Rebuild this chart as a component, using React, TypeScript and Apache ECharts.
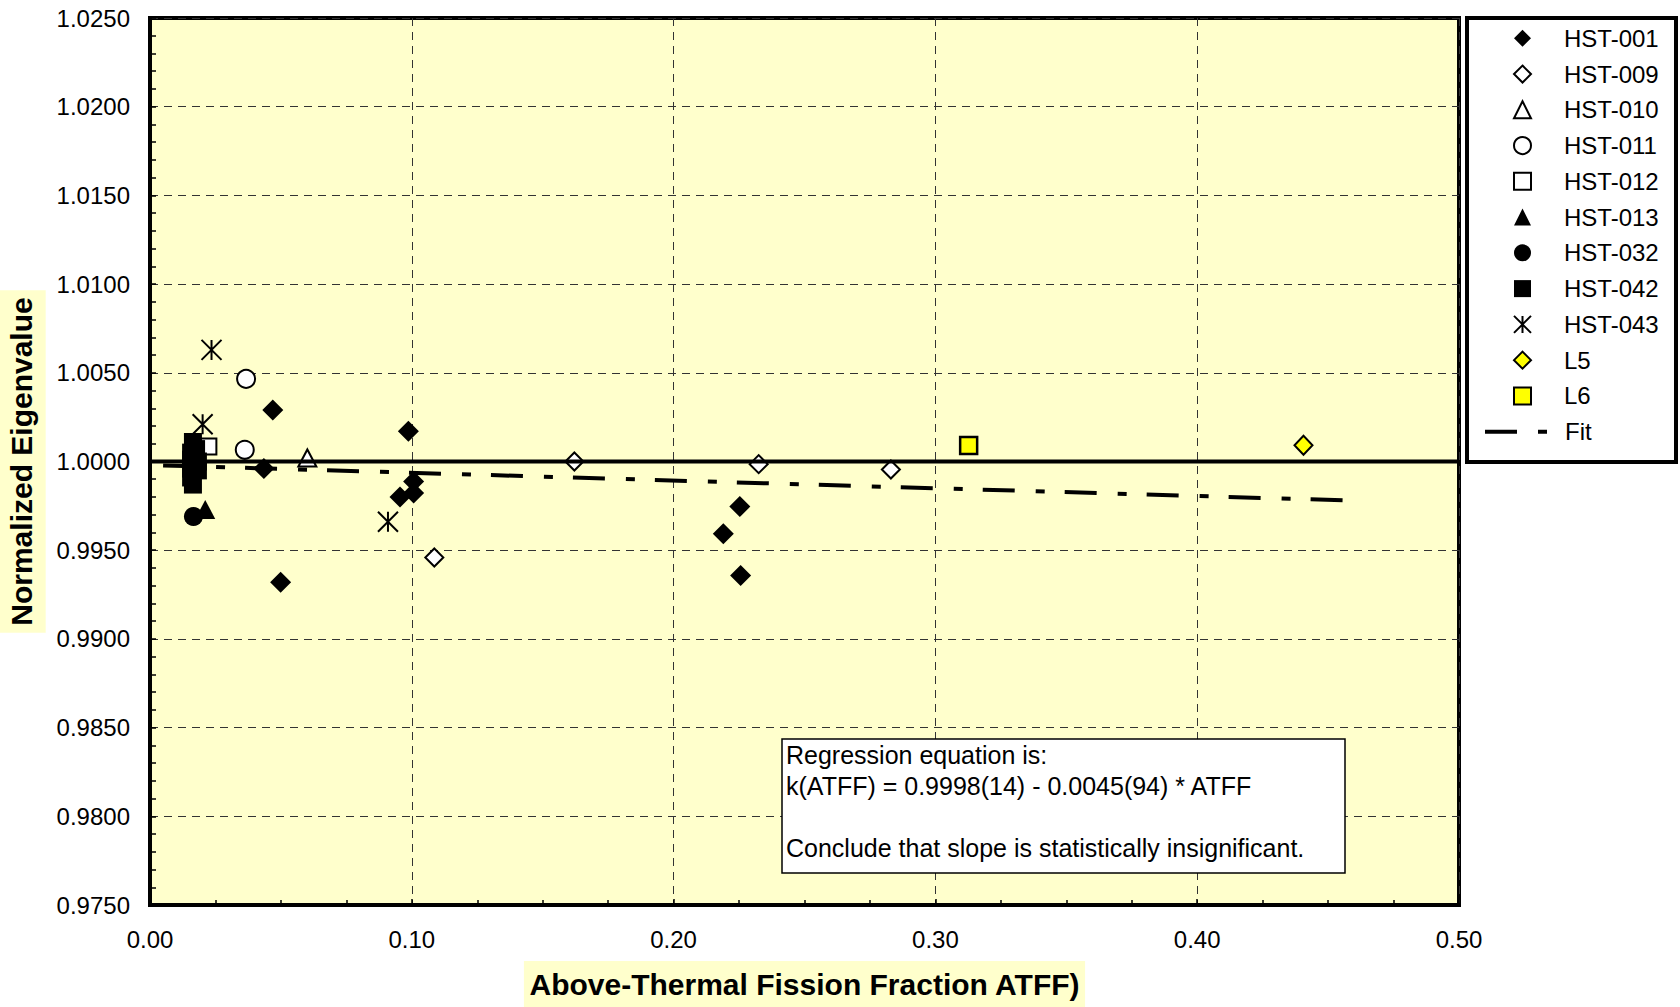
import React, { useEffect, useRef } from "react";
import * as echarts from "echarts";

const FONT = "'Liberation Sans', Arial, Helvetica, sans-serif";

// ---- data ----
const xMin = 0;
const xMax = 0.5;
const xStep = 0.1;
const yMin = 0.975;
const yMax = 1.025;
const yStep = 0.005;

const HST001 = [
  [0.0469, 1.0029], [0.0987, 1.0017], [0.0435, 0.9996], [0.1007, 0.99887],
  [0.1007, 0.99822], [0.0955, 0.9980], [0.0499, 0.9932], [0.2253, 0.99746],
  [0.2190, 0.99593], [0.2256, 0.99358],
];
const HST009 = [[0.1621, 1.0000], [0.2325, 0.99985], [0.2830, 0.99955], [0.1086, 0.99459]];
const HST010 = [[0.0601, 1.0002]];
const HST011 = [[0.0367, 1.00466], [0.0362, 1.00066]];
const HST012 = [[0.0223, 1.00085]];
const HST013 = [[0.0211, 0.9973]];
const HST032 = [[0.0166, 0.9969]];
const HST042 = [
  [0.0164, 1.0011], [0.0176, 1.0007], [0.0157, 1.0005], [0.0157, 1.0001],
  [0.0183, 1.0000], [0.0183, 0.9995], [0.0157, 0.9996], [0.0157, 0.9991],
  [0.0164, 0.9987],
];
const HST043 = [[0.0235, 1.00629], [0.0201, 1.0021], [0.0909, 0.9966]];
const L5 = [[0.4406, 1.00092]];
const L6 = [[0.3127, 1.0009]];
const FIT = [[0.005, 0.99978], [0.456, 0.99781]];
const BASELINE = [[0, 1], [0.5, 1]];

const markerNames = [
  "HST-001", "HST-009", "HST-010", "HST-011", "HST-012", "HST-013",
  "HST-032", "HST-042", "HST-043", "L5", "L6",
];

const regressionText = [
  "Regression equation is:",
  "k(ATFF) = 0.9998(14) - 0.0045(94) * ATFF",
  "",
  "Conclude that slope is statistically insignificant.",
];

const ASTERISK = "path://M10,0 L10,20 M0,0 L20,20 M20,0 L0,20";
const FIT_DASH = [32, 21, 9, 20];

function App() {
  const ref = useRef<HTMLDivElement>(null);

  useEffect(() => {
    if (!ref.current) return;
    const chart = echarts.init(ref.current, null, { renderer: "svg", width: 1680, height: 1007 });

    const filled = (color: string) => ({ color, borderColor: "#000", borderWidth: 0, opacity: 1 });
    const open = (fill: string, bw = 2) => ({ color: fill, borderColor: "#000", borderWidth: bw, opacity: 1 });

    const scatter = (name: string, data: number[][], symbol: string, size: any, itemStyle: any) => ({
      name,
      type: "scatter",
      data,
      symbol,
      symbolSize: size,
      itemStyle,
      silent: true,
    });

    const option: any = {
      animation: false,
      backgroundColor: "#fff",
      textStyle: { fontFamily: FONT },
      grid: {
        left: 150,
        top: 18,
        width: 1309,
        height: 887,
        containLabel: false,
        outerBoundsMode: "none",
        show: true,
        backgroundColor: "#FFFFCC",
        borderColor: "#000",
        borderWidth: 4,
      },
      xAxis: {
        type: "value",
        min: xMin,
        max: xMax,
        interval: xStep,
        axisLine: { show: true, onZero: false, lineStyle: { color: "#000", width: 4 } },
        axisTick: { show: true, inside: true, length: 6, lineStyle: { color: "#000", width: 1.5 } },
        minorTick: { show: true, splitNumber: 4, length: 5, lineStyle: { color: "#000", width: 1.5 } },
        splitLine: { show: true, lineStyle: { color: "#333", width: 1, type: [8, 6] } },
        axisLabel: {
          fontSize: 24,
          color: "#000",
          fontFamily: FONT,
          margin: 22,
          formatter: (v: number) => v.toFixed(2),
        },
        name: "Above-Thermal Fission Fraction ATFF)",
        nameLocation: "middle",
        nameGap: 56,
        nameTextStyle: {
          fontSize: 30,
          fontWeight: "bold",
          color: "#000",
          fontFamily: FONT,
          lineHeight: 30,
          backgroundColor: "#FFFFCC",
          padding: [8, 5, 8, 5],
        },
      },
      yAxis: {
        type: "value",
        min: yMin,
        max: yMax,
        interval: yStep,
        axisLine: { show: true, onZero: false, lineStyle: { color: "#000", width: 4 } },
        axisTick: { show: true, inside: true, length: 6, lineStyle: { color: "#000", width: 1.5 } },
        minorTick: { show: true, splitNumber: 5, length: 6, lineStyle: { color: "#000", width: 1.5 } },
        splitLine: { show: true, lineStyle: { color: "#333", width: 1, type: [8, 6] } },
        axisLabel: {
          fontSize: 24,
          color: "#000",
          fontFamily: FONT,
          margin: 20,
          formatter: (v: number) => v.toFixed(4),
        },
        name: "Normalized Eigenvalue",
        nameLocation: "middle",
        nameGap: 100,
        nameTextStyle: {
          fontSize: 30,
          fontWeight: "bold",
          color: "#000",
          fontFamily: FONT,
          lineHeight: 30,
          backgroundColor: "#FFFFCC",
          padding: [8, 7, 9, 7],
        },
      },
      legend: [
        {
          data: markerNames,
          orient: "vertical",
          left: 1513,
          top: 26.3,
          itemWidth: 17,
          itemHeight: 17,
          itemGap: 11.76,
          padding: 0,
          selectedMode: false,
          textStyle: {
            fontSize: 24,
            lineHeight: 24,
            color: "#000",
            fontFamily: FONT,
            padding: [0, 0, 0, 28],
          },
        },
        {
          data: ["Fit"],
          orient: "vertical",
          left: 1483,
          top: 419.7,
          itemWidth: 64,
          itemHeight: 17,
          padding: 0,
          selectedMode: false,
          itemStyle: { color: "rgba(0,0,0,0)", borderWidth: 0, opacity: 0 },
          lineStyle: { width: 4, type: FIT_DASH, color: "#000", opacity: 1 },
          textStyle: {
            fontSize: 24,
            lineHeight: 24,
            color: "#000",
            fontFamily: FONT,
            padding: [0, 0, 0, 11],
          },
        },
      ],
      graphic: [
        {
          type: "rect",
          z: 1,
          shape: { x: 1467, y: 18, width: 209, height: 444 },
          style: { fill: "#fff", stroke: "#000", lineWidth: 4 },
        },
        {
          type: "group",
          z: 10,
          children: [
            {
              type: "rect",
              z: 10,
              shape: { x: 782, y: 739, width: 563, height: 134 },
              style: { fill: "#fff", stroke: "#000", lineWidth: 1.5 },
            },
            {
              type: "text",
              z: 11,
              x: 786,
              y: 739.5,
              style: {
                text: regressionText.join("\n"),
                fontSize: 25,
                lineHeight: 31,
                fontFamily: FONT,
                fill: "#000",
                textAlign: "left",
                textVerticalAlign: "top",
              },
            },
          ],
        },
      ],
      series: [
        {
          name: "baseline",
          type: "line",
          data: BASELINE,
          symbol: "none",
          silent: true,
          lineStyle: { color: "#000", width: 4 },
        },
        {
          name: "Fit",
          type: "line",
          data: FIT,
          symbol: "none",
          silent: true,
          itemStyle: { color: "#000" },
          lineStyle: { color: "#000", width: 4, type: FIT_DASH },
        },
        scatter("HST-001", HST001, "diamond", 21, filled("#000")),
        scatter("HST-009", HST009, "diamond", 18, open("#fff")),
        scatter("HST-010", HST010, "triangle", [18, 17], open("#fff")),
        scatter("HST-011", HST011, "circle", 18, open("#fff")),
        scatter("HST-012", HST012, "rect", 16, open("#fff")),
        scatter("HST-013", HST013, "triangle", [20, 19], filled("#000")),
        scatter("HST-032", HST032, "circle", 19, filled("#000")),
        scatter("HST-042", HST042, "rect", 18, filled("#000")),
        scatter("HST-043", HST043, ASTERISK, 20, { color: "#000", borderColor: "#000", borderWidth: 2, opacity: 1 }),
        scatter("L5", L5, "diamond", [18, 19], open("#FFFF00")),
        scatter("L6", L6, "rect", 17, open("#FFFF00", 2.5)),
      ],
    };

    chart.setOption(option);
    return () => chart.dispose();
  }, []);

  return (
    <div
      ref={ref}
      style={{ position: "fixed", left: 0, top: 0, width: 1680, height: 1007, background: "#fff" }}
    />
  );
}

export default App;
